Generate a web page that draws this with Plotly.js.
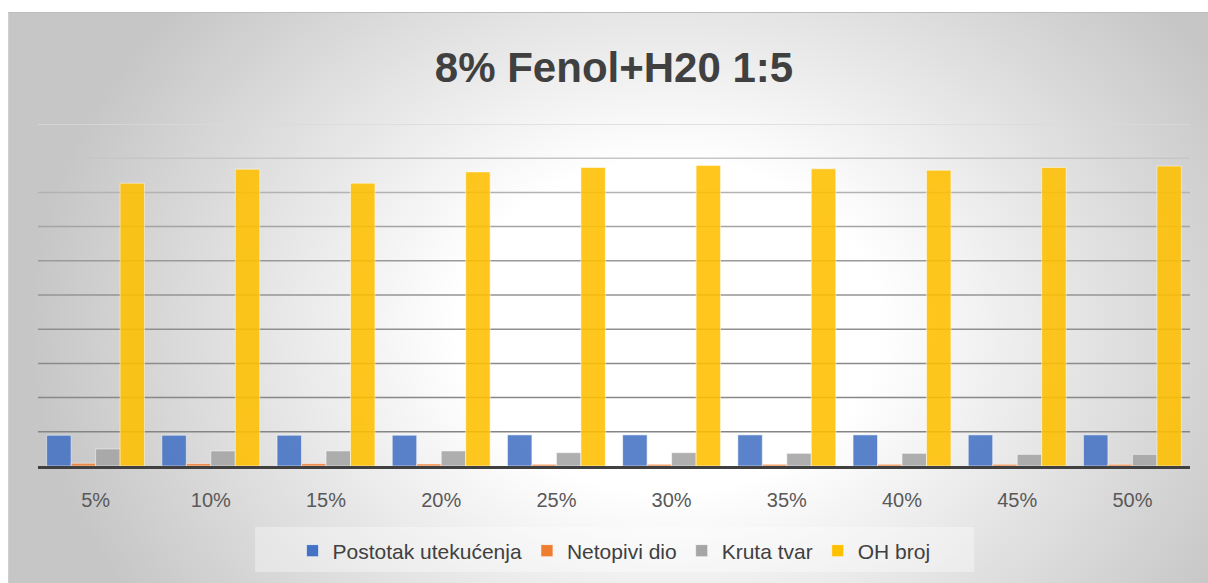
<!DOCTYPE html>
<html>
<head>
<meta charset="utf-8">
<script src="https://cdn.plot.ly/plotly-3.0.1.min.js"></script>
<style>
  html, body { margin:0; padding:0; background:#ffffff; width:1208px; height:583px; overflow:hidden; }
  #bg { position:absolute; left:8px; top:12px; width:1200px; height:571px;
        border-top:1px solid #bdbdbd; border-left:1px solid #d0d0d0; box-sizing:border-box;
        background: radial-gradient(ellipse 640px 500px at 55% 55%, #ffffff 0%, #ffffff 33%, #c6c6c6 100%); }
  #chart { position:absolute; left:0; top:0; width:1208px; height:583px; }
</style>
</head>
<body>
<div id="bg"></div>
<div id="chart"></div>
<script>
const categories = ["5%", "10%", "15%", "20%", "25%", "30%", "35%", "40%", "45%", "50%"];
const postotakUtekucenja = [90, 90, 90, 90, 91, 91, 91, 91, 91, 91];
const netopiviDio = [8, 7, 7, 6, 5, 5, 5, 5, 5, 5];
const krutaTvar = [50, 44, 44, 44, 39, 39, 37, 37, 34, 34];
const ohBroj = [827, 868, 827, 860, 873, 879, 869, 865, 873, 877];
const gridValues = [100, 200, 300, 400, 500, 600, 700, 800, 900, 1000];
const gridColors = ["#858585", "#888888", "#8b8b8b", "#8f8f8f", "#949494", "#9a9a9a", "#a4a4a4", "#b2b2b2", "#c6c6c6", "#dadada"];

const barLine = {color: 'rgba(255,255,255,0.55)', width: 1};
function series(name, values, color) {
  return {type: 'bar', name: name, x: categories, y: values,
          marker: {color: color, opacity: 0.88, line: barLine},
          hoverinfo: 'x+y'};
}
const data = [
  series('Postotak utekućenja', postotakUtekucenja, '#4472C4'),
  series('Netopivi dio', netopiviDio, '#ED7D31'),
  series('Kruta tvar', krutaTvar, '#A5A5A5'),
  series('OH broj', ohBroj, '#FFC000')
];

const shapes = gridValues.map((v, i) => ({
  type: 'line', xref: 'paper', yref: 'y', x0: 0, x1: 1, y0: v, y1: v,
  line: {color: gridColors[i], width: 1.5}, layer: 'below'
}));
shapes.push({type: 'rect', xref: 'paper', yref: 'paper', x0: 0.1884, x1: 0.8125, y0: -0.178, y1: -0.31,
             fillcolor: 'rgba(255,255,255,0.35)', line: {width: 0}, layer: 'below'});

const layout = {
  width: 1208, height: 583,
  margin: {l: 38, r: 18, t: 124, b: 117},
  paper_bgcolor: 'rgba(0,0,0,0)', plot_bgcolor: 'rgba(0,0,0,0)',
  title: {text: '8% Fenol+H20 1:5', x: 0.5, xref: 'paper', xanchor: 'center',
          y: 0.885, yref: 'container', yanchor: 'middle',
          font: {family: 'Liberation Sans, Arial, sans-serif', size: 42, color: '#404040', weight: 'bold'}},
  barmode: 'group', bargap: 0.15, bargroupgap: 0,
  xaxis: {type: 'category', showline: true, linecolor: '#404040', linewidth: 3, ticks: '', showgrid: false,
          tickfont: {family: 'Liberation Sans, Arial, sans-serif', size: 20, color: '#595959'},
          ticklabelstandoff: 14},
  yaxis: {range: [0, 1000], showgrid: false, zeroline: false, showticklabels: false, showline: false, ticks: ''},
  shapes: shapes,
  showlegend: true,
  legend: {orientation: 'h', x: 0.5, xanchor: 'center', y: -0.2485, yanchor: 'middle',
           bgcolor: 'rgba(0,0,0,0)', font: {family: 'Liberation Sans, Arial, sans-serif', size: 21, color: '#404040'},
           itemclick: false, traceorder: 'normal'}
};
Plotly.newPlot('chart', data, layout, {displayModeBar: false, staticPlot: true});
</script>
</body>
</html>
